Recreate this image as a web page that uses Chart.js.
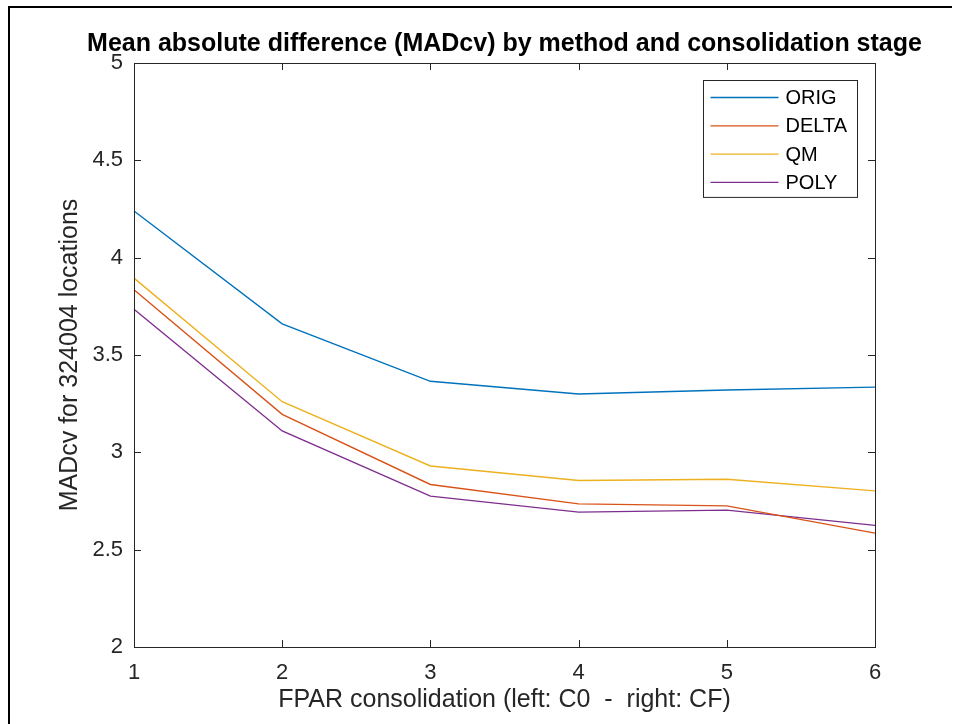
<!DOCTYPE html>
<html>
<head>
<meta charset="utf-8">
<script src="https://cdn.jsdelivr.net/npm/chart.js@4"></script>
<style>
  body { margin: 0; background: #fff; }
  #wrap { position: relative; width: 955px; height: 724px; }
  #frame { position: absolute; left: 8px; top: 6px; width: 942px; height: 718px;
           border-top: 2px solid #000; border-left: 2px solid #000; pointer-events: none; }
</style>
</head>
<body>
<div id="wrap">
  <canvas id="madChart"></canvas>
  <div id="frame"></div>
</div>
<script>
// consolidation stages C0 .. CF
var stages = ['1', '2', '3', '4', '5', '6'];

var origVals  = [4.24, 3.66, 3.365, 3.30, 3.32, 3.335];
var deltaVals = [3.835, 3.195, 2.835, 2.735, 2.725, 2.585];
var qmVals    = [3.895, 3.26, 2.93, 2.855, 2.862, 2.802];
var polyVals  = [3.735, 3.11, 2.775, 2.693, 2.703, 2.625];

var yTicks = [2, 2.5, 3, 3.5, 4, 4.5, 5];

var chartTitle = 'Mean absolute difference (MADcv) by method and consolidation stage';

var axisColor = '#262626';
var fontFam = '"Liberation Sans", Arial, Helvetica, sans-serif';

// title centred over the axes, allowed to run wider than them
var axesTitle = {
  id: 'axesTitle',
  afterDraw: function (chart) {
    var ctx = chart.ctx, a = chart.chartArea;
    ctx.save();
    ctx.font = 'bold 25px ' + fontFam;
    ctx.fillStyle = '#000';
    ctx.textAlign = 'center';
    ctx.textBaseline = 'alphabetic';
    ctx.fillText(chartTitle, (a.left + a.right) / 2, a.top - 12);
    ctx.restore();
  }
};

// box around the axes + inward ticks on all four sides
var boxAxes = {
  id: 'boxAxes',
  afterDraw: function (chart) {
    var ctx = chart.ctx, a = chart.chartArea;
    var xs = chart.scales.x, ys = chart.scales.y;
    var tl = 7;
    ctx.save();
    ctx.strokeStyle = axisColor;
    ctx.lineWidth = 1;
    ctx.strokeRect(Math.round(a.left) + 0.5, Math.round(a.top) + 0.5,
                   Math.round(a.right - a.left), Math.round(a.bottom - a.top));
    ctx.beginPath();
    xs.ticks.forEach(function (t, i) {
      var px = Math.round(xs.getPixelForTick(i)) + 0.5;
      ctx.moveTo(px, a.bottom); ctx.lineTo(px, a.bottom - tl);
      ctx.moveTo(px, a.top); ctx.lineTo(px, a.top + tl);
    });
    ys.ticks.forEach(function (t) {
      var py = Math.round(ys.getPixelForValue(t.value)) + 0.5;
      ctx.moveTo(a.left, py); ctx.lineTo(a.left + tl, py);
      ctx.moveTo(a.right, py); ctx.lineTo(a.right - tl, py);
    });
    ctx.stroke();
    ctx.restore();
  }
};

// legend box in the upper right of the axes
var boxLegend = {
  id: 'boxLegend',
  afterDraw: function (chart) {
    var ctx = chart.ctx, a = chart.chartArea;
    var sets = chart.data.datasets;
    var w = 154, rowH = 28.3, padTop = 17;
    var h = padTop * 2 + rowH * (sets.length - 1) - 2;
    var x0 = Math.round(a.right - 18 - w) + 0.5, y0 = Math.round(a.top + 17) + 0.5;
    ctx.save();
    ctx.fillStyle = '#fff';
    ctx.fillRect(x0, y0, w, h);
    ctx.strokeStyle = axisColor;
    ctx.lineWidth = 1;
    ctx.strokeRect(x0, y0, w, h);
    ctx.font = '20px ' + fontFam;
    ctx.textBaseline = 'middle';
    ctx.fillStyle = '#000';
    sets.forEach(function (ds, i) {
      var cy = y0 + padTop + i * rowH;
      ctx.strokeStyle = ds.borderColor;
      ctx.lineWidth = 1.3;
      ctx.beginPath();
      ctx.moveTo(x0 + 7, cy); ctx.lineTo(x0 + 75, cy);
      ctx.stroke();
      ctx.fillText(ds.label, x0 + 82, cy + 1);
    });
    ctx.restore();
  }
};

function line(label, data, color) {
  return {
    label: label,
    data: data,
    borderColor: color,
    backgroundColor: color,
    borderWidth: 1.4,
    pointRadius: 0,
    tension: 0,
    fill: false
  };
}

var chart = new Chart(document.getElementById('madChart'), {
  type: 'line',
  data: {
    labels: stages,
    datasets: [
      line('ORIG', origVals, '#0072BD'),
      line('DELTA', deltaVals, '#D95319'),
      line('QM', qmVals, '#EDB120'),
      line('POLY', polyVals, '#7E2F8E')
    ]
  },
  plugins: [boxAxes, boxLegend, axesTitle],
  options: {
    responsive: true,
    maintainAspectRatio: false,
    animation: false,
    layout: { padding: { top: 63, right: 80, bottom: 0, left: 0 } },
    plugins: {
      legend: { display: false },
      tooltip: { enabled: false },
      title: { display: false }
    },
    scales: {
      x: {
        type: 'category',
        offset: false,
        grid: { display: false, drawTicks: false },
        border: { display: false },
        ticks: { color: axisColor, font: { family: fontFam, size: 22 }, padding: 13, maxRotation: 0 },
        title: {
          display: true,
          text: 'FPAR consolidation (left: C0  -  right: CF)',
          color: axisColor,
          font: { family: fontFam, size: 25 },
          padding: { top: 0, bottom: 9 }
        },
        afterFit: function (s) { s.height = 77; }
      },
      y: {
        min: 2,
        max: 5,
        grid: { display: false, drawTicks: false },
        border: { display: false },
        afterBuildTicks: function (s) {
          s.ticks = yTicks.map(function (v) { return { value: v }; });
        },
        ticks: {
          color: axisColor,
          font: { family: fontFam, size: 22 },
          padding: 11,
          callback: function (v) { return String(v); }
        },
        title: {
          display: true,
          text: 'MADcv for 324004 locations',
          color: axisColor,
          font: { family: fontFam, size: 25 },
          padding: { top: 55, bottom: 0 }
        },
        afterFit: function (s) { s.width = 134; }
      }
    }
  }
});
</script>
</body>
</html>
